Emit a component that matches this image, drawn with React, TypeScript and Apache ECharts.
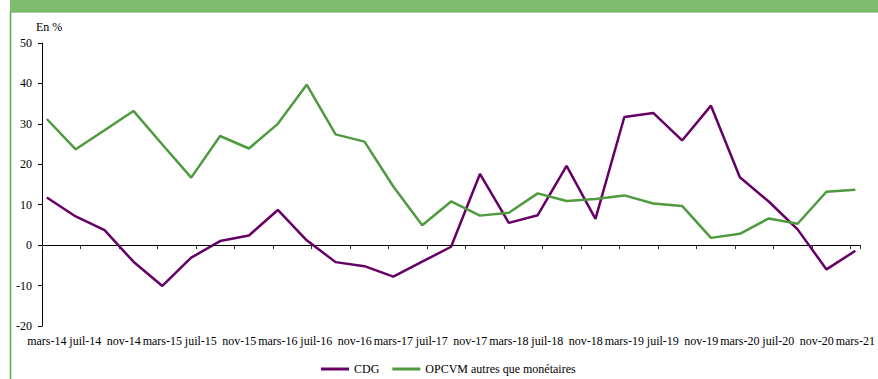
import React, { useEffect, useRef } from "react";
import * as echarts from "echarts";

const monthNames = ["janv", "févr", "mars", "avr", "mai", "juin", "juil", "août", "sept", "oct", "nov", "déc"];
const startYear = 14;
const startMonth = 2; // mars
const monthCount = 85; // mars-14 .. mars-21

const categories: string[] = [];
for (let i = 0; i < monthCount; i++) {
  const m = (startMonth + i) % 12;
  const y = startYear + Math.floor((startMonth + i) / 12);
  categories.push(`${monthNames[m]}-${y}`);
}

// quarterly values, mars-14 .. mars-21
const cdg = [
  11.8, 7.1, 3.7, -4.1, -10.1, -3.1, 1.0, 2.4, 8.7, 1.2, -4.2, -5.2, -7.8, -4.1, -0.4,
  17.6, 5.5, 7.4, 19.6, 6.5, 31.7, 32.7, 25.9, 34.5, 16.8, 10.8, 3.9, -6.0, -1.4,
];
const opcvm = [
  31.2, 23.7, 28.4, 33.2, 24.9, 16.7, 27.0, 23.9, 30.0, 39.7, 27.4, 25.6, 14.5, 4.9, 10.8,
  7.3, 8.0, 12.8, 10.9, 11.4, 12.3, 10.3, 9.7, 1.8, 2.8, 6.6, 5.3, 13.2, 13.7,
];

const seriesNames = ["CDG", "OPCVM autres que monétaires"];
const FONT = "Liberation Serif, Times New Roman, DejaVu Serif, serif";

export default function App() {
  const ref = useRef<HTMLDivElement>(null);
  useEffect(() => {
    if (!ref.current) return;
    const chart = echarts.init(ref.current, null, { renderer: "svg" });
    const toPairs = (arr: number[]) => arr.map((v, i) => [categories[i * 3], v]);
    chart.setOption({
      animation: false,
      backgroundColor: "#ffffff",
      textStyle: { fontFamily: FONT },
      grid: { left: 42, right: 15, top: 43, bottom: 53, containLabel: false },
      graphic: [
        { type: "rect", shape: { x: 10, y: 0, width: 868, height: 12 }, style: { fill: "#7dbd6d" }, silent: true },
        { type: "line", shape: { x1: 10, y1: 12, x2: 878, y2: 12 }, style: { stroke: "#62a853", lineWidth: 1 }, silent: true },
        { type: "line", shape: { x1: 10.5, y1: 12, x2: 10.5, y2: 379 }, style: { stroke: "#5aab4a", lineWidth: 1.5 }, silent: true },
        {
          type: "text",
          x: 36,
          y: 27,
          style: {
            text: "En %",
            fontFamily: FONT,
            fontSize: 12,
            fill: "#000",
            textVerticalAlign: "middle",
          },
          silent: true,
        },
      ],
      legend: {
        left: 316,
        top: 358,
        icon: "rect",
        itemWidth: 28,
        itemHeight: 3,
        itemGap: 13,
        textStyle: { fontFamily: FONT, fontSize: 12, color: "#000" },
        data: seriesNames,
      },
      xAxis: [
        {
          type: "category",
          data: categories,
          position: "bottom",
          boundaryGap: true,
          axisLine: { show: true, onZero: true, lineStyle: { color: "#000", width: 1 } },
          axisTick: { show: true, interval: 3, length: 4, lineStyle: { color: "#333" } },
          axisLabel: { show: false },
          splitLine: { show: false },
        },
        {
          type: "category",
          data: categories,
          position: "bottom",
          boundaryGap: true,
          axisLine: { show: false, onZero: false },
          axisTick: { show: false },
          axisLabel: {
            show: true,
            interval: 3,
            margin: 9,
            fontFamily: FONT,
            fontSize: 12,
            color: "#000",
          },
          splitLine: { show: false },
        },
      ],
      yAxis: {
        type: "value",
        min: -20,
        max: 50,
        interval: 10,
        axisLine: { show: true, lineStyle: { color: "#000", width: 1 } },
        axisTick: { show: true, length: 4, lineStyle: { color: "#000" } },
        axisLabel: { margin: 10, fontFamily: FONT, fontSize: 12, color: "#000" },
        splitLine: { show: false },
      },
      series: [
        {
          name: seriesNames[0],
          type: "line",
          xAxisIndex: 0,
          data: toPairs(cdg),
          symbol: "none",
          lineStyle: { color: "#660066", width: 2.5 },
          itemStyle: { color: "#660066" },
        },
        {
          name: seriesNames[1],
          type: "line",
          xAxisIndex: 0,
          data: toPairs(opcvm),
          symbol: "none",
          lineStyle: { color: "#4e9a3e", width: 2.5 },
          itemStyle: { color: "#4e9a3e" },
        },
      ],
    });
    return () => chart.dispose();
  }, []);
  return (
    <div
      ref={ref}
      style={{ position: "fixed", left: 0, top: 0, width: 878, height: 379, background: "#fff" }}
    />
  );
}
